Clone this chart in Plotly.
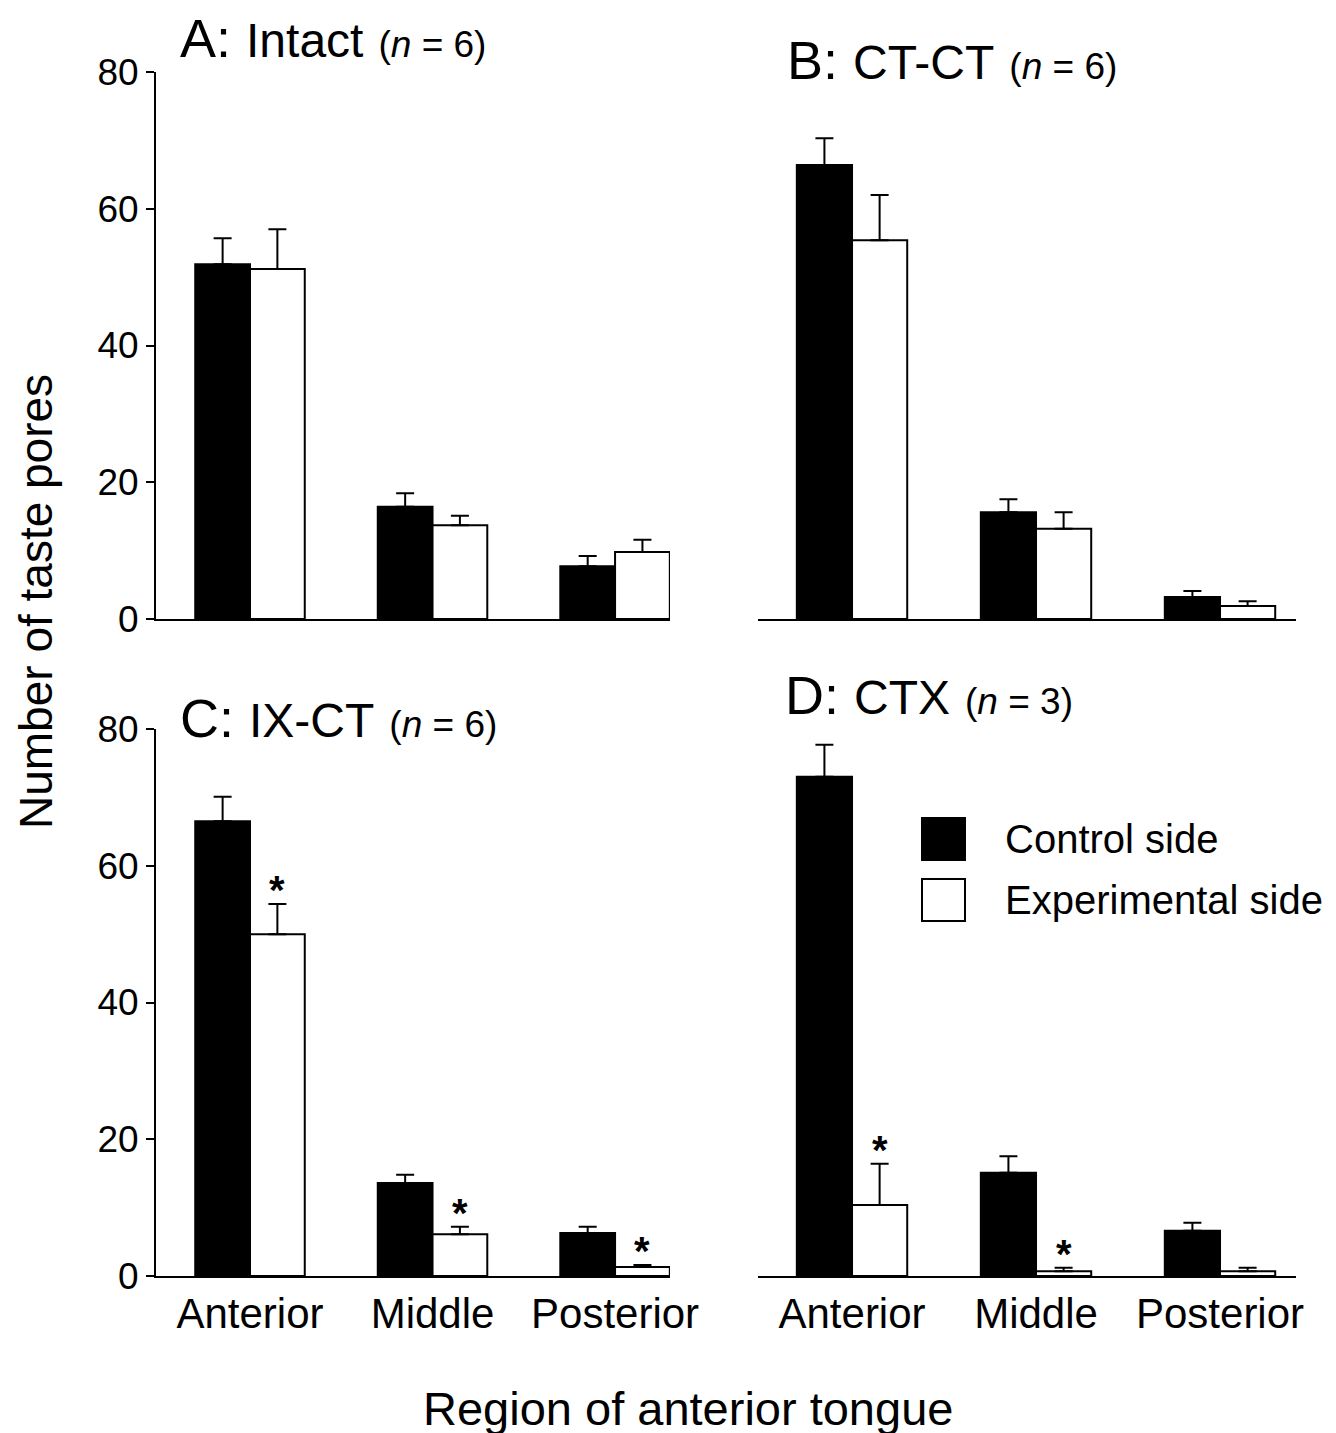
import plotly.graph_objects as go

W, H = 1336, 1433

categories = ["Anterior", "Middle", "Posterior"]
positions = [0, 1, 2]
y_ticks = [0, 20, 40, 60, 80]

# Panel A: Intact (n = 6)
A_control = [51.9, 16.4, 7.7]
A_control_se = [3.8, 2.0, 1.5]
A_exp = [51.2, 13.7, 9.8]
A_exp_se = [5.8, 1.4, 1.8]
A_sig = [False, False, False]

# Panel B: CT-CT (n = 6)
B_control = [66.4, 15.6, 3.2]
B_control_se = [3.9, 1.9, 0.9]
B_exp = [55.4, 13.2, 1.9]
B_exp_se = [6.6, 2.4, 0.7]
B_sig = [False, False, False]

# Panel C: IX-CT (n = 6)
C_control = [66.5, 13.6, 6.3]
C_control_se = [3.6, 1.2, 0.9]
C_exp = [50.0, 6.1, 1.3]
C_exp_se = [4.4, 1.1, 0.3]
C_sig = [True, True, True]

# Panel D: CTX (n = 3)
D_control = [73.0, 15.1, 6.6]
D_control_se = [4.7, 2.4, 1.2]
D_exp = [10.4, 0.7, 0.7]
D_exp_se = [6.0, 0.5, 0.5]
D_sig = [True, True, False]

FONT = "Liberation Sans, Arial, Helvetica, sans-serif"
BW = 0.30
OFF = 8  # page body margin offset

def px_x(p):
    return (p - OFF) / W

def px_y(p):
    return 1 - (p - OFF) / H

panels = [
    dict(key="", ctrl=A_control, cse=A_control_se, exp=A_exp, ese=A_exp_se, sig=A_sig,
         xd=(156, 670), yd=(72, 619), xr=(-0.515, 2.301), left=True, bottom=False),
    dict(key="2", ctrl=B_control, cse=B_control_se, exp=B_exp, ese=B_exp_se, sig=B_sig,
         xd=(758, 1296), yd=(72, 619), xr=(-0.511, 2.413), left=False, bottom=False),
    dict(key="3", ctrl=C_control, cse=C_control_se, exp=C_exp, ese=C_exp_se, sig=C_sig,
         xd=(156, 670), yd=(729, 1276), xr=(-0.515, 2.301), left=True, bottom=True),
    dict(key="4", ctrl=D_control, cse=D_control_se, exp=D_exp, ese=D_exp_se, sig=D_sig,
         xd=(758, 1296), yd=(729, 1276), xr=(-0.511, 2.413), left=False, bottom=True),
]

fig = go.Figure()
layout = {}
annotations = []

for p in panels:
    xa = "x" + p["key"]
    ya = "y" + p["key"]
    fig.add_trace(go.Bar(
        x=positions, y=p["ctrl"], width=BW, offset=-BW,
        marker=dict(color="black", line=dict(color="black", width=2)),
        error_y=dict(type="data", symmetric=False, array=p["cse"], arrayminus=[0] * 3,
                     color="black", thickness=2, width=9),
        xaxis=xa, yaxis=ya, showlegend=False, name="Control side"))
    fig.add_trace(go.Bar(
        x=positions, y=p["exp"], width=BW, offset=0,
        marker=dict(color="white", line=dict(color="black", width=2)),
        error_y=dict(type="data", symmetric=False, array=p["ese"], arrayminus=[0] * 3,
                     color="black", thickness=2, width=9),
        xaxis=xa, yaxis=ya, showlegend=False, name="Experimental side"))

    layout["xaxis" + p["key"]] = dict(
        domain=[px_x(p["xd"][0]), px_x(p["xd"][1])], range=list(p["xr"]),
        anchor=ya, showline=True, linecolor="black", linewidth=2, automargin=False,
        showgrid=False, zeroline=False, ticks="",
        tickvals=positions, ticktext=categories, showticklabels=p["bottom"],
        tickfont=dict(family=FONT, size=42, color="black"))
    layout["yaxis" + p["key"]] = dict(
        domain=[px_y(p["yd"][1]), px_y(p["yd"][0])], range=[0, 80],
        anchor=xa, showline=p["left"], linecolor="black", linewidth=2, automargin=False,
        showgrid=False, zeroline=False, visible=p["left"],
        ticks="outside" if p["left"] else "", ticklen=8, tickwidth=2, tickcolor="black",
        tickvals=y_ticks, tickfont=dict(family=FONT, size=37, color="black"))

    for i, s in enumerate(p["sig"]):
        if s:
            annotations.append(dict(
                x=positions[i] + BW / 2, y=p["exp"][i] + p["ese"][i],
                xref=xa, yref=ya, text="<b>*</b>", showarrow=False,
                xanchor="center", yanchor="bottom", yshift=-10,
                font=dict(family=FONT, size=40, color="black")))

titles = [
    ("A:", "Intact", "6", 178, 38),
    ("B:", "CT-CT", "6", 785, 60),
    ("C:", "IX-CT", "6", 178, 718),
    ("D:", "CTX", "3", 783, 695),
]
for letter, name, n, x0, y0 in titles:
    annotations.append(dict(
        x=px_x(x0), y=px_y(y0), xref="paper", yref="paper",
        xanchor="left", yanchor="middle", showarrow=False,
        text=letter + "&nbsp;<span style='font-size:48px'>" + name + "</span>"
             + " <span style='font-size:37px'>(<i>n</i> = " + n + ")</span>",
        font=dict(family=FONT, size=54, color="black")))

annotations.append(dict(
    x=px_x(36), y=px_y(602), xref="paper", yref="paper", textangle=-90,
    text="Number of taste pores", showarrow=False, xanchor="center", yanchor="middle",
    font=dict(family=FONT, size=46, color="black")))
annotations.append(dict(
    x=px_x(688), y=px_y(1408), xref="paper", yref="paper",
    text="Region of anterior tongue", showarrow=False, xanchor="center", yanchor="middle",
    font=dict(family=FONT, size=47, color="black")))

# legend (drawn in the D panel area)
legend_items = [("Control side", "black", 839), ("Experimental side", "white", 900)]
shapes = []
for label, color, yc in legend_items:
    shapes.append(dict(type="rect", xref="paper", yref="paper",
                       x0=px_x(922), x1=px_x(965), y0=px_y(yc + 21), y1=px_y(yc - 21),
                       fillcolor=color, line=dict(color="black", width=2)))
    annotations.append(dict(
        x=px_x(1003), y=px_y(yc), xref="paper", yref="paper", text=label,
        showarrow=False, xanchor="left", yanchor="middle",
        font=dict(family=FONT, size=40, color="black")))

fig.update_layout(
    width=W, height=H, margin=dict(l=0, r=0, t=0, b=0, autoexpand=False),
    paper_bgcolor="white", plot_bgcolor="white",
    barmode="overlay", showlegend=False,
    annotations=annotations, shapes=shapes, **layout)

fig.write_html("out.html")
